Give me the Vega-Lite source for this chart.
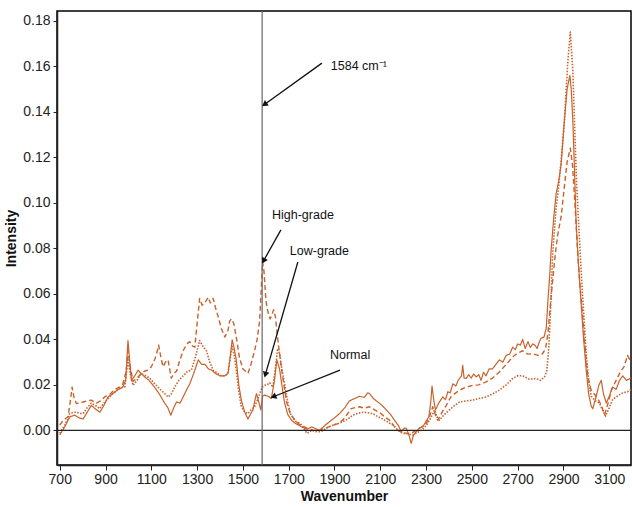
{
"$schema": "https://vega.github.io/schema/vega-lite/v6.json",
"width": 574, "height": 454,
"autosize": "none",
"padding": {"left": 57, "top": 11, "right": 1, "bottom": 42},
"background": "white",
"config": {"view": {"stroke": "black", "strokeWidth": 1.5}, "font": "Liberation Sans Narrow, Liberation Sans, Arial"},
"datasets": {
"spectra": [
{"s":"Normal","wn":700,"v":-0.002},{"s":"Normal","wn":722,"v":0.0016},{"s":"Normal","wn":744,"v":0.006},{"s":"Normal","wn":765,"v":0.0067},{"s":"Normal","wn":785,"v":0.0055},{"s":"Normal","wn":802,"v":0.005},{"s":"Normal","wn":820,"v":0.008},{"s":"Normal","wn":838,"v":0.011},{"s":"Normal","wn":855,"v":0.0095},{"s":"Normal","wn":875,"v":0.008},{"s":"Normal","wn":893,"v":0.011},{"s":"Normal","wn":911,"v":0.0147},{"s":"Normal","wn":930,"v":0.016},{"s":"Normal","wn":955,"v":0.018},{"s":"Normal","wn":975,"v":0.019},{"s":"Normal","wn":988,"v":0.022},{"s":"Normal","wn":998,"v":0.0395},{"s":"Normal","wn":1006,"v":0.030},{"s":"Normal","wn":1013,"v":0.022},{"s":"Normal","wn":1028,"v":0.024},{"s":"Normal","wn":1042,"v":0.0265},{"s":"Normal","wn":1056,"v":0.025},{"s":"Normal","wn":1071,"v":0.0235},{"s":"Normal","wn":1090,"v":0.022},{"s":"Normal","wn":1114,"v":0.019},{"s":"Normal","wn":1135,"v":0.016},{"s":"Normal","wn":1158,"v":0.012},{"s":"Normal","wn":1172,"v":0.010},{"s":"Normal","wn":1185,"v":0.0067},{"s":"Normal","wn":1198,"v":0.010},{"s":"Normal","wn":1210,"v":0.0125},{"s":"Normal","wn":1225,"v":0.012},{"s":"Normal","wn":1239,"v":0.0147},{"s":"Normal","wn":1255,"v":0.018},{"s":"Normal","wn":1268,"v":0.0205},{"s":"Normal","wn":1285,"v":0.025},{"s":"Normal","wn":1305,"v":0.031},{"s":"Normal","wn":1320,"v":0.029},{"s":"Normal","wn":1334,"v":0.029},{"s":"Normal","wn":1350,"v":0.027},{"s":"Normal","wn":1363,"v":0.0265},{"s":"Normal","wn":1380,"v":0.025},{"s":"Normal","wn":1399,"v":0.024},{"s":"Normal","wn":1420,"v":0.024},{"s":"Normal","wn":1435,"v":0.025},{"s":"Normal","wn":1445,"v":0.033},{"s":"Normal","wn":1453,"v":0.0398},{"s":"Normal","wn":1462,"v":0.036},{"s":"Normal","wn":1471,"v":0.031},{"s":"Normal","wn":1482,"v":0.020},{"s":"Normal","wn":1493,"v":0.0133},{"s":"Normal","wn":1508,"v":0.008},{"s":"Normal","wn":1522,"v":0.005},{"s":"Normal","wn":1535,"v":0.0075},{"s":"Normal","wn":1544,"v":0.009},{"s":"Normal","wn":1552,"v":0.013},{"s":"Normal","wn":1559,"v":0.0162},{"s":"Normal","wn":1568,"v":0.013},{"s":"Normal","wn":1578,"v":0.009},{"s":"Normal","wn":1586,"v":0.015},{"s":"Normal","wn":1595,"v":0.0155},{"s":"Normal","wn":1610,"v":0.015},{"s":"Normal","wn":1624,"v":0.014},{"s":"Normal","wn":1638,"v":0.022},{"s":"Normal","wn":1648,"v":0.031},{"s":"Normal","wn":1660,"v":0.027},{"s":"Normal","wn":1670,"v":0.020},{"s":"Normal","wn":1682,"v":0.012},{"s":"Normal","wn":1696,"v":0.007},{"s":"Normal","wn":1712,"v":0.0045},{"s":"Normal","wn":1730,"v":0.003},{"s":"Normal","wn":1755,"v":0.0016},{"s":"Normal","wn":1780,"v":0.0005},{"s":"Normal","wn":1800,"v":0.0015},{"s":"Normal","wn":1813,"v":0.001},{"s":"Normal","wn":1834,"v":0.000},{"s":"Normal","wn":1856,"v":0.002},{"s":"Normal","wn":1878,"v":0.0038},{"s":"Normal","wn":1900,"v":0.0055},{"s":"Normal","wn":1922,"v":0.0074},{"s":"Normal","wn":1945,"v":0.010},{"s":"Normal","wn":1965,"v":0.013},{"s":"Normal","wn":1988,"v":0.014},{"s":"Normal","wn":2009,"v":0.015},{"s":"Normal","wn":2030,"v":0.0145},{"s":"Normal","wn":2045,"v":0.0165},{"s":"Normal","wn":2053,"v":0.0162},{"s":"Normal","wn":2070,"v":0.014},{"s":"Normal","wn":2089,"v":0.0125},{"s":"Normal","wn":2108,"v":0.011},{"s":"Normal","wn":2126,"v":0.009},{"s":"Normal","wn":2145,"v":0.007},{"s":"Normal","wn":2162,"v":0.0045},{"s":"Normal","wn":2180,"v":0.002},{"s":"Normal","wn":2191,"v":-0.0006},{"s":"Normal","wn":2205,"v":0.001},{"s":"Normal","wn":2213,"v":0.001},{"s":"Normal","wn":2225,"v":-0.002},{"s":"Normal","wn":2235,"v":-0.0057},{"s":"Normal","wn":2245,"v":-0.002},{"s":"Normal","wn":2257,"v":-0.0006},{"s":"Normal","wn":2270,"v":0.001},{"s":"Normal","wn":2286,"v":0.0016},{"s":"Normal","wn":2300,"v":0.004},{"s":"Normal","wn":2312,"v":0.006},{"s":"Normal","wn":2320,"v":0.012},{"s":"Normal","wn":2326,"v":0.0195},{"s":"Normal","wn":2334,"v":0.013},{"s":"Normal","wn":2341,"v":0.009},{"s":"Normal","wn":2355,"v":0.012},{"s":"Normal","wn":2373,"v":0.0147},{"s":"Normal","wn":2385,"v":0.0135},{"s":"Normal","wn":2395,"v":0.017},{"s":"Normal","wn":2405,"v":0.0165},{"s":"Normal","wn":2417,"v":0.0205},{"s":"Normal","wn":2430,"v":0.0195},{"s":"Normal","wn":2440,"v":0.022},{"s":"Normal","wn":2455,"v":0.024},{"s":"Normal","wn":2460,"v":0.0286},{"s":"Normal","wn":2466,"v":0.023},{"s":"Normal","wn":2475,"v":0.0228},{"s":"Normal","wn":2486,"v":0.0245},{"s":"Normal","wn":2497,"v":0.023},{"s":"Normal","wn":2508,"v":0.0248},{"s":"Normal","wn":2519,"v":0.0235},{"s":"Normal","wn":2530,"v":0.0245},{"s":"Normal","wn":2540,"v":0.022},{"s":"Normal","wn":2551,"v":0.0255},{"s":"Normal","wn":2562,"v":0.024},{"s":"Normal","wn":2575,"v":0.027},{"s":"Normal","wn":2590,"v":0.027},{"s":"Normal","wn":2605,"v":0.029},{"s":"Normal","wn":2620,"v":0.031},{"s":"Normal","wn":2635,"v":0.030},{"s":"Normal","wn":2650,"v":0.033},{"s":"Normal","wn":2665,"v":0.0335},{"s":"Normal","wn":2678,"v":0.0366},{"s":"Normal","wn":2690,"v":0.0355},{"s":"Normal","wn":2700,"v":0.038},{"s":"Normal","wn":2712,"v":0.0375},{"s":"Normal","wn":2722,"v":0.040},{"s":"Normal","wn":2733,"v":0.036},{"s":"Normal","wn":2745,"v":0.039},{"s":"Normal","wn":2755,"v":0.0365},{"s":"Normal","wn":2766,"v":0.038},{"s":"Normal","wn":2775,"v":0.0375},{"s":"Normal","wn":2785,"v":0.036},{"s":"Normal","wn":2795,"v":0.039},{"s":"Normal","wn":2802,"v":0.0405},{"s":"Normal","wn":2815,"v":0.041},{"s":"Normal","wn":2825,"v":0.045},{"s":"Normal","wn":2832,"v":0.057},{"s":"Normal","wn":2840,"v":0.068},{"s":"Normal","wn":2846,"v":0.079},{"s":"Normal","wn":2858,"v":0.094},{"s":"Normal","wn":2868,"v":0.104},{"s":"Normal","wn":2880,"v":0.110},{"s":"Normal","wn":2890,"v":0.117},{"s":"Normal","wn":2904,"v":0.136},{"s":"Normal","wn":2916,"v":0.150},{"s":"Normal","wn":2928,"v":0.156},{"s":"Normal","wn":2934,"v":0.150},{"s":"Normal","wn":2941,"v":0.136},{"s":"Normal","wn":2948,"v":0.115},{"s":"Normal","wn":2955,"v":0.092},{"s":"Normal","wn":2966,"v":0.072},{"s":"Normal","wn":2977,"v":0.056},{"s":"Normal","wn":2988,"v":0.040},{"s":"Normal","wn":2999,"v":0.027},{"s":"Normal","wn":3010,"v":0.016},{"s":"Normal","wn":3021,"v":0.0107},{"s":"Normal","wn":3028,"v":0.0095},{"s":"Normal","wn":3043,"v":0.015},{"s":"Normal","wn":3055,"v":0.020},{"s":"Normal","wn":3065,"v":0.022},{"s":"Normal","wn":3075,"v":0.016},{"s":"Normal","wn":3087,"v":0.012},{"s":"Normal","wn":3100,"v":0.015},{"s":"Normal","wn":3115,"v":0.019},{"s":"Normal","wn":3130,"v":0.018},{"s":"Normal","wn":3145,"v":0.022},{"s":"Normal","wn":3159,"v":0.024},{"s":"Normal","wn":3175,"v":0.022},{"s":"Normal","wn":3195,"v":0.023},
{"s":"High-grade","wn":700,"v":0.0023},{"s":"High-grade","wn":715,"v":0.0045},{"s":"High-grade","wn":736,"v":0.006},{"s":"High-grade","wn":745,"v":0.012},{"s":"High-grade","wn":754,"v":0.019},{"s":"High-grade","wn":763,"v":0.014},{"s":"High-grade","wn":773,"v":0.0118},{"s":"High-grade","wn":790,"v":0.012},{"s":"High-grade","wn":802,"v":0.0125},{"s":"High-grade","wn":820,"v":0.013},{"s":"High-grade","wn":838,"v":0.0133},{"s":"High-grade","wn":860,"v":0.012},{"s":"High-grade","wn":878,"v":0.013},{"s":"High-grade","wn":896,"v":0.0147},{"s":"High-grade","wn":920,"v":0.016},{"s":"High-grade","wn":940,"v":0.018},{"s":"High-grade","wn":960,"v":0.019},{"s":"High-grade","wn":976,"v":0.0205},{"s":"High-grade","wn":990,"v":0.026},{"s":"High-grade","wn":998,"v":0.035},{"s":"High-grade","wn":1008,"v":0.028},{"s":"High-grade","wn":1020,"v":0.0215},{"s":"High-grade","wn":1038,"v":0.023},{"s":"High-grade","wn":1056,"v":0.025},{"s":"High-grade","wn":1070,"v":0.026},{"s":"High-grade","wn":1085,"v":0.0265},{"s":"High-grade","wn":1100,"v":0.028},{"s":"High-grade","wn":1114,"v":0.031},{"s":"High-grade","wn":1124,"v":0.034},{"s":"High-grade","wn":1132,"v":0.0375},{"s":"High-grade","wn":1142,"v":0.032},{"s":"High-grade","wn":1151,"v":0.028},{"s":"High-grade","wn":1162,"v":0.030},{"s":"High-grade","wn":1173,"v":0.031},{"s":"High-grade","wn":1180,"v":0.027},{"s":"High-grade","wn":1187,"v":0.023},{"s":"High-grade","wn":1198,"v":0.025},{"s":"High-grade","wn":1210,"v":0.026},{"s":"High-grade","wn":1225,"v":0.031},{"s":"High-grade","wn":1239,"v":0.035},{"s":"High-grade","wn":1255,"v":0.038},{"s":"High-grade","wn":1268,"v":0.039},{"s":"High-grade","wn":1280,"v":0.037},{"s":"High-grade","wn":1290,"v":0.0366},{"s":"High-grade","wn":1300,"v":0.047},{"s":"High-grade","wn":1311,"v":0.058},{"s":"High-grade","wn":1322,"v":0.055},{"s":"High-grade","wn":1334,"v":0.056},{"s":"High-grade","wn":1348,"v":0.0585},{"s":"High-grade","wn":1358,"v":0.056},{"s":"High-grade","wn":1370,"v":0.058},{"s":"High-grade","wn":1380,"v":0.054},{"s":"High-grade","wn":1392,"v":0.050},{"s":"High-grade","wn":1405,"v":0.045},{"s":"High-grade","wn":1421,"v":0.041},{"s":"High-grade","wn":1435,"v":0.044},{"s":"High-grade","wn":1442,"v":0.048},{"s":"High-grade","wn":1450,"v":0.049},{"s":"High-grade","wn":1460,"v":0.047},{"s":"High-grade","wn":1471,"v":0.041},{"s":"High-grade","wn":1485,"v":0.032},{"s":"High-grade","wn":1500,"v":0.027},{"s":"High-grade","wn":1512,"v":0.026},{"s":"High-grade","wn":1522,"v":0.025},{"s":"High-grade","wn":1535,"v":0.029},{"s":"High-grade","wn":1551,"v":0.035},{"s":"High-grade","wn":1562,"v":0.040},{"s":"High-grade","wn":1573,"v":0.048},{"s":"High-grade","wn":1580,"v":0.062},{"s":"High-grade","wn":1586,"v":0.074},{"s":"High-grade","wn":1592,"v":0.070},{"s":"High-grade","wn":1600,"v":0.058},{"s":"High-grade","wn":1605,"v":0.054},{"s":"High-grade","wn":1612,"v":0.051},{"s":"High-grade","wn":1619,"v":0.049},{"s":"High-grade","wn":1627,"v":0.051},{"s":"High-grade","wn":1634,"v":0.053},{"s":"High-grade","wn":1642,"v":0.050},{"s":"High-grade","wn":1650,"v":0.042},{"s":"High-grade","wn":1656,"v":0.037},{"s":"High-grade","wn":1666,"v":0.029},{"s":"High-grade","wn":1678,"v":0.0205},{"s":"High-grade","wn":1692,"v":0.012},{"s":"High-grade","wn":1707,"v":0.0074},{"s":"High-grade","wn":1730,"v":0.004},{"s":"High-grade","wn":1751,"v":0.0023},{"s":"High-grade","wn":1780,"v":0.001},{"s":"High-grade","wn":1808,"v":0.000},{"s":"High-grade","wn":1834,"v":0.000},{"s":"High-grade","wn":1860,"v":0.001},{"s":"High-grade","wn":1893,"v":0.0023},{"s":"High-grade","wn":1915,"v":0.003},{"s":"High-grade","wn":1936,"v":0.0045},{"s":"High-grade","wn":1955,"v":0.007},{"s":"High-grade","wn":1973,"v":0.0096},{"s":"High-grade","wn":1990,"v":0.010},{"s":"High-grade","wn":2009,"v":0.0104},{"s":"High-grade","wn":2030,"v":0.0098},{"s":"High-grade","wn":2053,"v":0.0104},{"s":"High-grade","wn":2075,"v":0.009},{"s":"High-grade","wn":2096,"v":0.008},{"s":"High-grade","wn":2118,"v":0.006},{"s":"High-grade","wn":2140,"v":0.0045},{"s":"High-grade","wn":2160,"v":0.002},{"s":"High-grade","wn":2177,"v":0.000},{"s":"High-grade","wn":2200,"v":-0.001},{"s":"High-grade","wn":2220,"v":-0.0013},{"s":"High-grade","wn":2240,"v":-0.001},{"s":"High-grade","wn":2257,"v":0.000},{"s":"High-grade","wn":2280,"v":0.0015},{"s":"High-grade","wn":2300,"v":0.003},{"s":"High-grade","wn":2315,"v":0.006},{"s":"High-grade","wn":2329,"v":0.0104},{"s":"High-grade","wn":2340,"v":0.007},{"s":"High-grade","wn":2351,"v":0.0045},{"s":"High-grade","wn":2370,"v":0.008},{"s":"High-grade","wn":2388,"v":0.011},{"s":"High-grade","wn":2410,"v":0.015},{"s":"High-grade","wn":2430,"v":0.0165},{"s":"High-grade","wn":2446,"v":0.0177},{"s":"High-grade","wn":2475,"v":0.019},{"s":"High-grade","wn":2504,"v":0.0198},{"s":"High-grade","wn":2530,"v":0.020},{"s":"High-grade","wn":2562,"v":0.0213},{"s":"High-grade","wn":2590,"v":0.023},{"s":"High-grade","wn":2620,"v":0.0257},{"s":"High-grade","wn":2650,"v":0.029},{"s":"High-grade","wn":2678,"v":0.0323},{"s":"High-grade","wn":2700,"v":0.034},{"s":"High-grade","wn":2722,"v":0.035},{"s":"High-grade","wn":2745,"v":0.0335},{"s":"High-grade","wn":2766,"v":0.0337},{"s":"High-grade","wn":2790,"v":0.033},{"s":"High-grade","wn":2809,"v":0.0337},{"s":"High-grade","wn":2822,"v":0.036},{"s":"High-grade","wn":2832,"v":0.0425},{"s":"High-grade","wn":2840,"v":0.052},{"s":"High-grade","wn":2846,"v":0.0585},{"s":"High-grade","wn":2853,"v":0.066},{"s":"High-grade","wn":2865,"v":0.078},{"s":"High-grade","wn":2875,"v":0.086},{"s":"High-grade","wn":2890,"v":0.094},{"s":"High-grade","wn":2905,"v":0.108},{"s":"High-grade","wn":2916,"v":0.118},{"s":"High-grade","wn":2930,"v":0.124},{"s":"High-grade","wn":2940,"v":0.116},{"s":"High-grade","wn":2950,"v":0.100},{"s":"High-grade","wn":2962,"v":0.078},{"s":"High-grade","wn":2975,"v":0.060},{"s":"High-grade","wn":2984,"v":0.050},{"s":"High-grade","wn":2995,"v":0.036},{"s":"High-grade","wn":3006,"v":0.024},{"s":"High-grade","wn":3020,"v":0.018},{"s":"High-grade","wn":3035,"v":0.016},{"s":"High-grade","wn":3050,"v":0.014},{"s":"High-grade","wn":3065,"v":0.011},{"s":"High-grade","wn":3080,"v":0.007},{"s":"High-grade","wn":3095,"v":0.012},{"s":"High-grade","wn":3110,"v":0.018},{"s":"High-grade","wn":3130,"v":0.022},{"s":"High-grade","wn":3150,"v":0.026},{"s":"High-grade","wn":3165,"v":0.028},{"s":"High-grade","wn":3180,"v":0.033},{"s":"High-grade","wn":3195,"v":0.030},
{"s":"Low-grade","wn":700,"v":-0.0013},{"s":"Low-grade","wn":722,"v":0.0023},{"s":"Low-grade","wn":735,"v":0.005},{"s":"Low-grade","wn":744,"v":0.0074},{"s":"Low-grade","wn":760,"v":0.008},{"s":"Low-grade","wn":773,"v":0.008},{"s":"Low-grade","wn":790,"v":0.0075},{"s":"Low-grade","wn":802,"v":0.0074},{"s":"Low-grade","wn":820,"v":0.010},{"s":"Low-grade","wn":838,"v":0.012},{"s":"Low-grade","wn":855,"v":0.011},{"s":"Low-grade","wn":875,"v":0.0096},{"s":"Low-grade","wn":893,"v":0.012},{"s":"Low-grade","wn":911,"v":0.014},{"s":"Low-grade","wn":930,"v":0.016},{"s":"Low-grade","wn":955,"v":0.018},{"s":"Low-grade","wn":975,"v":0.019},{"s":"Low-grade","wn":984,"v":0.019},{"s":"Low-grade","wn":998,"v":0.031},{"s":"Low-grade","wn":1008,"v":0.025},{"s":"Low-grade","wn":1020,"v":0.0198},{"s":"Low-grade","wn":1038,"v":0.022},{"s":"Low-grade","wn":1056,"v":0.025},{"s":"Low-grade","wn":1075,"v":0.024},{"s":"Low-grade","wn":1093,"v":0.023},{"s":"Low-grade","wn":1110,"v":0.021},{"s":"Low-grade","wn":1129,"v":0.019},{"s":"Low-grade","wn":1150,"v":0.017},{"s":"Low-grade","wn":1173,"v":0.0147},{"s":"Low-grade","wn":1187,"v":0.016},{"s":"Low-grade","wn":1202,"v":0.019},{"s":"Low-grade","wn":1220,"v":0.022},{"s":"Low-grade","wn":1239,"v":0.024},{"s":"Low-grade","wn":1258,"v":0.026},{"s":"Low-grade","wn":1275,"v":0.0265},{"s":"Low-grade","wn":1292,"v":0.032},{"s":"Low-grade","wn":1311,"v":0.0395},{"s":"Low-grade","wn":1325,"v":0.037},{"s":"Low-grade","wn":1341,"v":0.035},{"s":"Low-grade","wn":1355,"v":0.030},{"s":"Low-grade","wn":1370,"v":0.0265},{"s":"Low-grade","wn":1390,"v":0.025},{"s":"Low-grade","wn":1406,"v":0.024},{"s":"Low-grade","wn":1420,"v":0.024},{"s":"Low-grade","wn":1435,"v":0.025},{"s":"Low-grade","wn":1445,"v":0.032},{"s":"Low-grade","wn":1453,"v":0.037},{"s":"Low-grade","wn":1462,"v":0.033},{"s":"Low-grade","wn":1471,"v":0.0265},{"s":"Low-grade","wn":1482,"v":0.017},{"s":"Low-grade","wn":1493,"v":0.0104},{"s":"Low-grade","wn":1508,"v":0.008},{"s":"Low-grade","wn":1522,"v":0.0074},{"s":"Low-grade","wn":1535,"v":0.009},{"s":"Low-grade","wn":1551,"v":0.0104},{"s":"Low-grade","wn":1562,"v":0.013},{"s":"Low-grade","wn":1573,"v":0.016},{"s":"Low-grade","wn":1584,"v":0.019},{"s":"Low-grade","wn":1595,"v":0.0198},{"s":"Low-grade","wn":1605,"v":0.020},{"s":"Low-grade","wn":1617,"v":0.021},{"s":"Low-grade","wn":1631,"v":0.019},{"s":"Low-grade","wn":1645,"v":0.030},{"s":"Low-grade","wn":1652,"v":0.036},{"s":"Low-grade","wn":1660,"v":0.034},{"s":"Low-grade","wn":1670,"v":0.027},{"s":"Low-grade","wn":1682,"v":0.0205},{"s":"Low-grade","wn":1695,"v":0.013},{"s":"Low-grade","wn":1707,"v":0.0074},{"s":"Low-grade","wn":1730,"v":0.004},{"s":"Low-grade","wn":1751,"v":0.003},{"s":"Low-grade","wn":1765,"v":0.001},{"s":"Low-grade","wn":1780,"v":-0.0013},{"s":"Low-grade","wn":1800,"v":0.000},{"s":"Low-grade","wn":1824,"v":-0.0006},{"s":"Low-grade","wn":1840,"v":-0.0006},{"s":"Low-grade","wn":1865,"v":0.001},{"s":"Low-grade","wn":1893,"v":0.0023},{"s":"Low-grade","wn":1915,"v":0.003},{"s":"Low-grade","wn":1936,"v":0.0038},{"s":"Low-grade","wn":1958,"v":0.005},{"s":"Low-grade","wn":1980,"v":0.0067},{"s":"Low-grade","wn":2002,"v":0.0075},{"s":"Low-grade","wn":2024,"v":0.008},{"s":"Low-grade","wn":2045,"v":0.0078},{"s":"Low-grade","wn":2067,"v":0.0074},{"s":"Low-grade","wn":2090,"v":0.006},{"s":"Low-grade","wn":2111,"v":0.005},{"s":"Low-grade","wn":2135,"v":0.0035},{"s":"Low-grade","wn":2155,"v":0.0023},{"s":"Low-grade","wn":2178,"v":0.000},{"s":"Low-grade","wn":2198,"v":-0.0013},{"s":"Low-grade","wn":2220,"v":-0.0015},{"s":"Low-grade","wn":2242,"v":-0.002},{"s":"Low-grade","wn":2260,"v":-0.001},{"s":"Low-grade","wn":2279,"v":0.000},{"s":"Low-grade","wn":2300,"v":0.002},{"s":"Low-grade","wn":2315,"v":0.0045},{"s":"Low-grade","wn":2328,"v":0.007},{"s":"Low-grade","wn":2337,"v":0.009},{"s":"Low-grade","wn":2347,"v":0.006},{"s":"Low-grade","wn":2358,"v":0.0045},{"s":"Low-grade","wn":2380,"v":0.007},{"s":"Low-grade","wn":2402,"v":0.009},{"s":"Low-grade","wn":2425,"v":0.011},{"s":"Low-grade","wn":2446,"v":0.0125},{"s":"Low-grade","wn":2475,"v":0.013},{"s":"Low-grade","wn":2504,"v":0.0133},{"s":"Low-grade","wn":2530,"v":0.014},{"s":"Low-grade","wn":2562,"v":0.0147},{"s":"Low-grade","wn":2590,"v":0.016},{"s":"Low-grade","wn":2620,"v":0.0177},{"s":"Low-grade","wn":2650,"v":0.020},{"s":"Low-grade","wn":2678,"v":0.0228},{"s":"Low-grade","wn":2700,"v":0.024},{"s":"Low-grade","wn":2722,"v":0.024},{"s":"Low-grade","wn":2750,"v":0.0225},{"s":"Low-grade","wn":2780,"v":0.0228},{"s":"Low-grade","wn":2800,"v":0.022},{"s":"Low-grade","wn":2817,"v":0.0235},{"s":"Low-grade","wn":2827,"v":0.026},{"s":"Low-grade","wn":2835,"v":0.035},{"s":"Low-grade","wn":2842,"v":0.0486},{"s":"Low-grade","wn":2853,"v":0.078},{"s":"Low-grade","wn":2868,"v":0.098},{"s":"Low-grade","wn":2880,"v":0.108},{"s":"Low-grade","wn":2890,"v":0.119},{"s":"Low-grade","wn":2904,"v":0.136},{"s":"Low-grade","wn":2919,"v":0.162},{"s":"Low-grade","wn":2930,"v":0.175},{"s":"Low-grade","wn":2941,"v":0.158},{"s":"Low-grade","wn":2950,"v":0.130},{"s":"Low-grade","wn":2958,"v":0.107},{"s":"Low-grade","wn":2968,"v":0.088},{"s":"Low-grade","wn":2977,"v":0.0705},{"s":"Low-grade","wn":2988,"v":0.052},{"s":"Low-grade","wn":2999,"v":0.034},{"s":"Low-grade","wn":3010,"v":0.022},{"s":"Low-grade","wn":3021,"v":0.015},{"s":"Low-grade","wn":3040,"v":0.013},{"s":"Low-grade","wn":3057,"v":0.012},{"s":"Low-grade","wn":3070,"v":0.009},{"s":"Low-grade","wn":3084,"v":0.0063},{"s":"Low-grade","wn":3100,"v":0.010},{"s":"Low-grade","wn":3115,"v":0.0136},{"s":"Low-grade","wn":3135,"v":0.015},{"s":"Low-grade","wn":3159,"v":0.0165},{"s":"Low-grade","wn":3180,"v":0.017},{"s":"Low-grade","wn":3195,"v":0.018}
],
"arrows": [
{"label":"1584 cm⁻¹","x1":1845,"y1":0.1614,"x2":1594,"y2":0.1432,"tx":1884,"ty":0.160},
{"label":"High-grade","x1":1666,"y1":0.0881,"x2":1590,"y2":0.0745,"tx":1627,"ty":0.0946},
{"label":"Low-grade","x1":1740,"y1":0.074,"x2":1598,"y2":0.0245,"tx":1705,"ty":0.0788},
{"label":"Normal","x1":1924,"y1":0.0265,"x2":1633,"y2":0.0148,"tx":1880,"ty":0.0331}
],
"vref": [{"wn": 1584}],
"href": [{"v": 0}]
},
"layer": [
{
"data": {"name": "spectra"},
"mark": {"type": "line", "color": "#c8622c", "clip": true, "strokeJoin": "round"},
"encoding": {
"x": {"field": "wn", "type": "quantitative",
"scale": {"domain": [688, 3195], "nice": false, "zero": false},
"axis": {"values": [700,800,900,1000,1100,1200,1300,1400,1500,1600,1700,1800,1900,2000,2100,2200,2300,2400,2500,2600,2700,2800,2900,3000,3100],
"labelExpr": "datum.value % 200 == 100 ? datum.label : ''", "format": "d", "labelOverlap": false,
"title": "Wavenumber", "titleFontWeight": "bold", "titleFontSize": 14, "titleColor": "#111", "titlePadding": 3,
"labelFontSize": 14, "labelColor": "#222", "labelPadding": 2, "tickSize": 5, "tickColor": "#222", "domainColor": "#222", "domainWidth": 1.5, "grid": false}},
"y": {"field": "v", "type": "quantitative",
"scale": {"domain": [-0.0152, 0.1843], "nice": false, "zero": false},
"axis": {"values": [0,0.02,0.04,0.06,0.08,0.1,0.12,0.14,0.16,0.18], "format": ".2f",
"title": "Intensity", "titleFontWeight": "bold", "titleFontSize": 14, "titleColor": "#111", "titlePadding": 4,
"labelFontSize": 14, "labelColor": "#222", "labelPadding": 3, "tickSize": 4, "tickColor": "#222", "domainColor": "#222", "domainWidth": 1.5, "grid": false}},
"strokeDash": {"field": "s", "type": "nominal", "scale": {"domain": ["Normal","High-grade","Low-grade"], "range": [[1,0],[5,3],[1.5,1.5]]}, "legend": null},
"strokeWidth": {"field": "s", "type": "nominal", "scale": {"domain": ["Normal","High-grade","Low-grade"], "range": [1.2,1.6,1.3]}, "legend": null}
}
},
{"data": {"name": "href"}, "mark": {"type": "rule", "color": "#222", "strokeWidth": 1.2}, "encoding": {"y": {"field": "v", "type": "quantitative"}}},
{"data": {"name": "vref"}, "mark": {"type": "rule", "color": "#666", "strokeWidth": 1.2}, "encoding": {"x": {"field": "wn", "type": "quantitative"}}},
{
"data": {"name": "arrows"},
"mark": {"type": "rule", "color": "#111", "strokeWidth": 1.3},
"encoding": {"x": {"field": "x1", "type": "quantitative"}, "y": {"field": "y1", "type": "quantitative"}, "x2": {"field": "x2"}, "y2": {"field": "y2"}}
},
{
"data": {"name": "arrows"},
"mark": {"type": "text", "align": "left", "baseline": "middle", "fontSize": 12.5, "color": "#111"},
"encoding": {"x": {"field": "tx", "type": "quantitative"}, "y": {"field": "ty", "type": "quantitative"}, "text": {"field": "label"}}
},
{
"data": {"name": "arrows"},
"transform": [{"filter": "datum.label == 'Normal'"}],
"mark": {"type": "point", "shape": "triangle-up", "filled": true, "color": "#111", "size": 45, "angle": 248, "opacity": 1},
"encoding": {"x": {"field": "x2", "type": "quantitative"}, "y": {"field": "y2", "type": "quantitative"}}
},
{
"data": {"name": "arrows"},
"transform": [{"filter": "datum.label == 'Low-grade'"}],
"mark": {"type": "point", "shape": "triangle-up", "filled": true, "color": "#111", "size": 45, "angle": 196, "opacity": 1},
"encoding": {"x": {"field": "x2", "type": "quantitative"}, "y": {"field": "y2", "type": "quantitative"}}
},
{
"data": {"name": "arrows"},
"transform": [{"filter": "datum.label == 'High-grade'"}],
"mark": {"type": "point", "shape": "triangle-up", "filled": true, "color": "#111", "size": 45, "angle": 209, "opacity": 1},
"encoding": {"x": {"field": "x2", "type": "quantitative"}, "y": {"field": "y2", "type": "quantitative"}}
},
{
"data": {"name": "arrows"},
"transform": [{"filter": "datum.label == '1584 cm⁻¹'"}],
"mark": {"type": "point", "shape": "triangle-up", "filled": true, "color": "#111", "size": 45, "angle": 235, "opacity": 1},
"encoding": {"x": {"field": "x2", "type": "quantitative"}, "y": {"field": "y2", "type": "quantitative"}}
}
]
}
